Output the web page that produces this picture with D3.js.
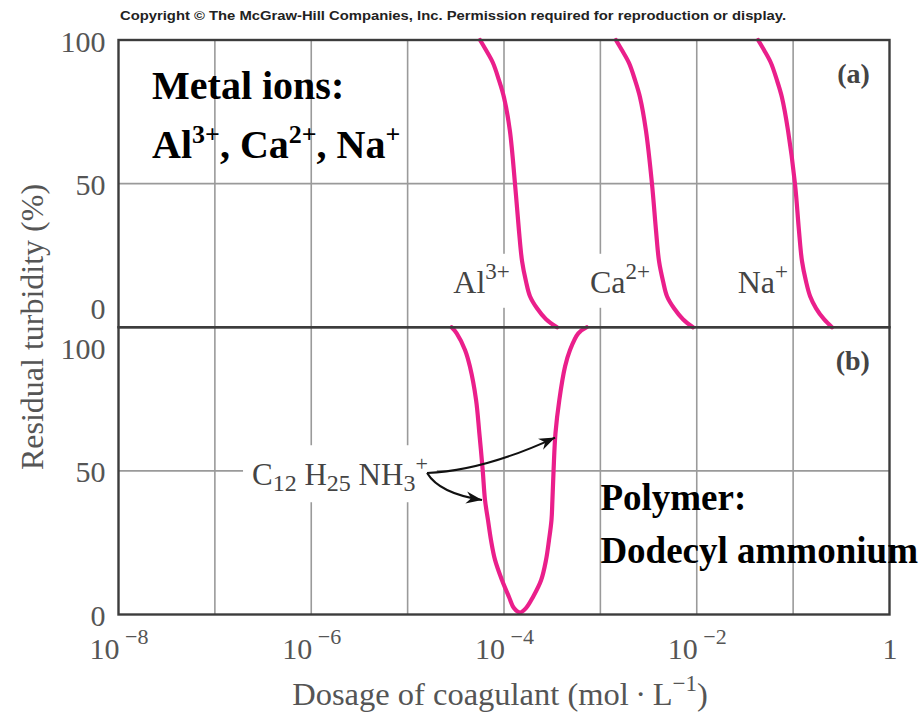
<!DOCTYPE html>
<html>
<head>
<meta charset="utf-8">
<script src="https://cdn.jsdelivr.net/npm/d3@7"></script>
<style>
  body { margin: 0; background: #fff; }
  svg { display: block; }
  text { font-family: "Liberation Serif", "Times New Roman", serif; }
</style>
</head>
<body>
<svg width="920" height="716"></svg>
<script>
// dose of coagulant (mol/L) vs residual turbidity (%)
var alDose = [5.64e-5, 6.50e-5, 7.69e-5, 8.87e-5, 1.00e-4, 1.15e-4, 1.30e-4,
              1.43e-4, 1.54e-4, 1.69e-4, 1.86e-4, 2.20e-4, 2.73e-4, 3.55e-4];
var alTurb = [100, 96.5, 92, 86, 80, 68.5, 50, 33.6, 23, 16, 10.8, 6.6, 2.8, 0];

var caDose = [1.45e-3, 1.67e-3, 1.98e-3, 2.29e-3, 2.58e-3, 2.97e-3, 3.43e-3,
              3.78e-3, 4.06e-3, 4.47e-3, 4.91e-3, 5.81e-3, 7.19e-3, 9.14e-3];
var caTurb = [100, 96.5, 92, 86, 80, 68.5, 50, 33.6, 23, 16, 10.8, 6.6, 2.8, 0];

var naDose = [0.0433, 0.0499, 0.0589, 0.0679, 0.0766, 0.0885, 0.1045,
              0.115, 0.1236, 0.136, 0.150, 0.173, 0.209, 0.253];
var naTurb = [100, 96.5, 92, 86, 80, 68.5, 50, 33.6, 23, 16, 10.8, 6.6, 2.8, 0];

var ddaDose = [2.86e-5, 3.23e-5, 3.94e-5, 4.43e-5, 5.13e-5, 5.55e-5, 6.01e-5, 6.35e-5, 6.82e-5, 7.33e-5,
               8.07e-5, 9.52e-5, 1.127e-4, 1.27e-4, 1.466e-4, 1.69e-4, 2.00e-4, 2.43e-4, 2.73e-4,
               2.93e-4, 3.11e-4, 3.18e-4, 3.27e-4, 3.42e-4, 3.75e-4, 4.30e-4, 4.84e-4, 5.90e-4, 7.21e-4];
var ddaTurb = [100, 97.9, 92.1, 86.3, 74.7, 63.1, 50.3, 39.9, 32.9, 25.9,
               19, 12, 6.1, 2.2, 0.7, 2.2, 6.1, 12, 19,
               25.9, 32.9, 39.9, 50.3, 63.1, 74.7, 86.3, 92.1, 97.9, 100];

var xTicks = [1e-8, 1e-6, 1e-4, 1e-2, 1];
var xTickBase = ["10", "10", "10", "10", "1"];
var xTickExp = ["\u22128", "\u22126", "\u22124", "\u22122", ""];
var gridDoses = [1e-7, 1e-6, 1e-5, 1e-4, 1e-3, 1e-2, 1e-1];
var yTicks = [0, 50, 100];

var pink = "#ea1f8b";

var svg = d3.select("svg"),
    margin = {top: 40, right: 30.5, left: 118.5},
    width = 920 - margin.left - margin.right,
    panelH = 287.25;

var x = d3.scaleLog().domain([1e-8, 1]).range([margin.left, margin.left + width]);
var yA = d3.scaleLinear().domain([0, 100]).range([margin.top + panelH, margin.top]);
var yB = d3.scaleLinear().domain([0, 100]).range([margin.top + 2 * panelH, margin.top + panelH]);

// copyright line
svg.append("text")
    .attr("x", 120).attr("y", 20)
    .attr("textLength", 666).attr("lengthAdjust", "spacingAndGlyphs")
    .style("font-family", "'Liberation Sans', Arial, sans-serif")
    .style("font-weight", "bold")
    .style("font-size", "13.5px")
    .attr("fill", "#222")
    .text("Copyright \u00a9 The McGraw-Hill Companies, Inc. Permission required for reproduction or display.");

var grid = svg.append("g"),
    labels = svg.append("g"),
    curves = svg.append("g");

[yA, yB].forEach(function (y) {
  grid.selectAll(null)
      .data(gridDoses)
    .enter().append("line")
      .attr("x1", function (d) { return x(d); })
      .attr("x2", function (d) { return x(d); })
      .attr("y1", y(0)).attr("y2", y(100))
      .attr("stroke", "#9a9a9a").attr("stroke-width", 1.6);
  grid.append("line")
      .attr("x1", x(1e-8)).attr("x2", x(1))
      .attr("y1", y(50)).attr("y2", y(50))
      .attr("stroke", "#9a9a9a").attr("stroke-width", 1.6);
});

// label with white box that cuts the grid behind it
function label(px, py, anchor, parts, size, fill, pad) {
  var g = labels.append("g");
  var t = g.append("text")
      .attr("x", px).attr("y", py)
      .attr("text-anchor", anchor)
      .style("font-size", size + "px")
      .attr("fill", fill);
  parts.forEach(function (p) {
    t.append("tspan")
        .attr("dy", p.dy || 0)
        .style("font-size", p.size ? p.size + "px" : null)
        .text(p.s);
  });
  var b = t.node().getBBox();
  g.insert("rect", "text")
      .attr("x", b.x - pad[0]).attr("y", b.y - pad[1])
      .attr("width", b.width + 2 * pad[0]).attr("height", b.height + pad[1] + pad[2])
      .attr("fill", "#fff");
}

label(x(1.15e-4), yA(12), "end", [{s: "Al"}, {s: "3+", dy: -14, size: 23}], 32, "#444", [3, 5, 8]);
label(x(3.27e-3), yA(12), "end", [{s: "Ca"}, {s: "2+", dy: -14, size: 23}], 32, "#444", [3, 5, 8]);
label(x(0.0885), yA(12), "end", [{s: "Na"}, {s: "+", dy: -14, size: 23}], 32, "#444", [3, 5, 8]);
label(x(2.43e-7), yB(45), "start", [
  {s: "C"}, {s: "12", dy: 6, size: 24}, {s: " H", dy: -6}, {s: "25", dy: 6, size: 24},
  {s: " NH", dy: -6}, {s: "3", dy: 6, size: 24}, {s: "+", dy: -20, size: 22}
], 31, "#444", [9, 6, 6]);

// curves
var line = d3.line()
    .x(function (d) { return x(d[0]); })
    .y(function (d) { return d[2](d[1]); })
    .curve(d3.curveCatmullRom.alpha(0.5));

[[alDose, alTurb, yA], [caDose, caTurb, yA], [naDose, naTurb, yA], [ddaDose, ddaTurb, yB]].forEach(function (s) {
  var pts = s[0].map(function (d, i) { return [d, s[1][i], s[2]]; });
  curves.append("path")
      .attr("d", line(pts))
      .attr("fill", "none")
      .attr("stroke", pink)
      .attr("stroke-width", 4.2)
      .attr("stroke-linecap", "round");
});

// arrows from the C12H25NH3+ label
svg.append("defs").append("marker")
    .attr("id", "head")
    .attr("markerUnits", "userSpaceOnUse")
    .attr("viewBox", "-16 -7 18 14")
    .attr("markerWidth", 18).attr("markerHeight", 14)
    .attr("refX", 0).attr("refY", 0)
    .attr("orient", "auto")
  .append("path")
    .attr("d", "M0,0 L-16,-6 L-11,0 L-16,6 Z")
    .attr("fill", "#111");

var arrowStart = [1.59e-5, 49.3];
var arrowCtrl = [[6.05e-5, 50], [2.14e-5, 42.1]];
var arrowEnd = [[3.39e-4, 61.6], [5.92e-5, 39.9]];

arrowEnd.forEach(function (e, i) {
  var c = arrowCtrl[i];
  svg.append("path")
      .attr("d", "M" + x(arrowStart[0]) + "," + yB(arrowStart[1]) +
                 "Q" + x(c[0]) + "," + yB(c[1]) + " " + x(e[0]) + "," + yB(e[1]))
      .attr("fill", "none")
      .attr("stroke", "#111")
      .attr("stroke-width", 2)
      .attr("marker-end", "url(#head)");
});

// panel frames
[yA, yB].forEach(function (y) {
  svg.append("rect")
      .attr("x", x(1e-8)).attr("y", y(100))
      .attr("width", x(1) - x(1e-8)).attr("height", y(0) - y(100))
      .attr("fill", "none")
      .attr("stroke", "#3c3c3c")
      .attr("stroke-width", 2.4);
});

// y axes: no tick marks, end labels nudged off the shared edge
[yA, yB].forEach(function (y, k) {
  var ax = svg.append("g")
      .attr("transform", "translate(" + (margin.left - 13) + ",0)")
      .call(d3.axisLeft(y).tickValues(yTicks).tickSize(0).tickPadding(0));
  ax.select(".domain").remove();
  ax.selectAll("text")
      .style("font-size", "30px")
      .style("font-family", "'Liberation Serif', 'Times New Roman', serif")
      .attr("fill", "#555")
      .attr("dy", function (d) {
        if (k === 0 && d === 0) return "-9px";
        if (k === 1 && d === 100) return "31px";
        return "11px";
      });
});

// x axis with powers of ten
var xa = svg.append("g")
    .attr("transform", "translate(0," + yB(0) + ")")
    .call(d3.axisBottom(x).tickValues(xTicks).tickSize(0).tickFormat(""));
xa.select(".domain").remove();
xa.selectAll("text")
    .attr("y", 0).attr("dy", 0)
    .attr("transform", "translate(0,44)")
    .style("font-size", "30px")
    .style("font-family", "'Liberation Serif', 'Times New Roman', serif")
    .attr("fill", "#555")
    .each(function (d, i) {
      var t = d3.select(this);
      t.append("tspan").text(xTickBase[i]);
      if (xTickExp[i]) t.append("tspan").attr("dy", -15).style("font-size", "22px").text(" " + xTickExp[i]);
    });

// axis titles
svg.append("text")
    .attr("x", 500).attr("y", 705)
    .attr("text-anchor", "middle")
    .style("font-size", "32.5px")
    .attr("fill", "#555")
    .call(function (t) {
      t.append("tspan").text("Dosage of coagulant (mol\u2009\u00b7\u2009L");
      t.append("tspan").attr("dy", -14).style("font-size", "23px").text("\u22121");
      t.append("tspan").attr("dy", 14).text(")");
    });

svg.append("text")
    .attr("transform", "translate(43," + 327 + ") rotate(-90)")
    .attr("text-anchor", "middle")
    .style("font-size", "32px")
    .attr("fill", "#555")
    .text("Residual turbidity (%)");

// panel tags
svg.append("text")
    .attr("x", x(0.627)).attr("y", yA(85))
    .attr("text-anchor", "end")
    .style("font-size", "28px").style("font-weight", "bold")
    .attr("fill", "#444")
    .text("(a)");
svg.append("text")
    .attr("x", x(0.627)).attr("y", yB(85))
    .attr("text-anchor", "end")
    .style("font-size", "28px").style("font-weight", "bold")
    .attr("fill", "#444")
    .text("(b)");

// bold notes
var note = svg.append("g")
    .style("font-weight", "bold")
    .attr("fill", "#000");
note.append("text")
    .attr("x", x(2.23e-8)).attr("y", yA(79.5))
    .style("font-size", "40px")
    .text("Metal ions:");
note.append("text")
    .attr("x", x(2.23e-8)).attr("y", yA(59))
    .style("font-size", "40px")
    .call(function (t) {
      t.append("tspan").text("Al");
      t.append("tspan").attr("dy", -15).style("font-size", "26px").text("3+");
      t.append("tspan").attr("dy", 15).text(", Ca");
      t.append("tspan").attr("dy", -15).style("font-size", "26px").text("2+");
      t.append("tspan").attr("dy", 15).text(", Na");
      t.append("tspan").attr("dy", -15).style("font-size", "26px").text("+");
    });
note.append("text")
    .attr("x", x(1e-3)).attr("y", yB(36.4))
    .style("font-size", "37px")
    .text("Polymer:");
note.append("text")
    .attr("x", x(1e-3)).attr("y", yB(17.9))
    .style("font-size", "37px")
    .text("Dodecyl ammonium");
</script>
</body>
</html>
